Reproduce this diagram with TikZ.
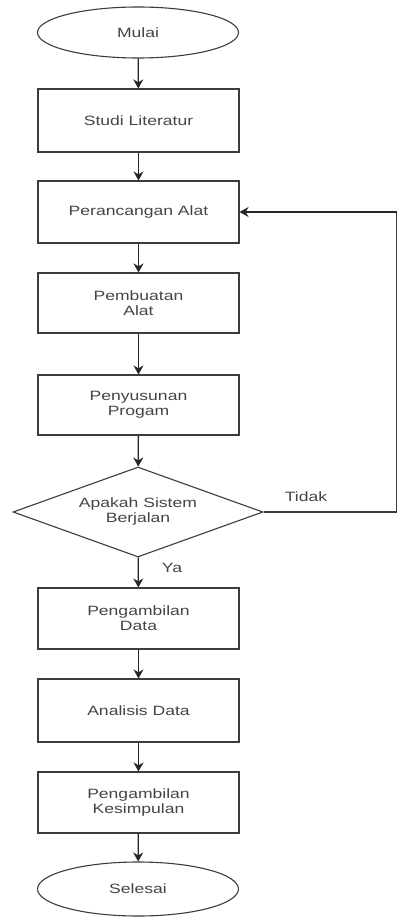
\documentclass[tikz,border=0pt]{standalone}
\usepackage{fontspec}
\setmainfont{Liberation Sans}[FakeStretch=1.3]
\usetikzlibrary{shapes.geometric,arrows.meta}
\definecolor{linegray}{HTML}{3C3C3C}
\definecolor{textgray}{HTML}{444444}
\tikzset{
  base/.style={draw=linegray, line width=1.1pt, inner sep=0pt, text=textgray, align=center,
    font=\fontsize{13.5}{15}\selectfont},
  procbox/.style={base, rectangle, minimum width=201pt},
  term/.style={base, ellipse, minimum width=201pt, minimum height=51pt},
  decision/.style={base, diamond, minimum width=250pt, minimum height=90pt, aspect=2.78},
  conn/.style={draw=black!85, line width=1.3pt, -{Stealth[length=9pt,width=10pt]}},
  plain/.style={draw=linegray, line width=1.1pt},
  lbl/.style={text=textgray, inner sep=0pt, font=\fontsize{13.5}{15}\selectfont}
}
\begin{document}
\begin{tikzpicture}[x=1pt,y=-1pt]
\useasboundingbox (0,0) rectangle (397,920);
\node[term] (mulai) at (138,32.5) {Mulai};
\node[procbox, minimum height=63pt] (studi) at (138.5,120.5) {Studi Literatur};
\node[procbox, minimum height=62pt] (peran) at (138.5,212) {Perancangan Alat};
\node[procbox, minimum height=60pt] (buat) at (138.5,303) {Pembuatan\\Alat};
\node[procbox, minimum height=60pt] (susun) at (138.5,405) {Penyusunan\\Progam};
\node[decision] (cek) at (138,512) {Apakah Sistem\\Berjalan};
\node[procbox, minimum height=61pt] (ambil) at (138.5,618.5) {Pengambilan\\Data};
\node[procbox, minimum height=63pt] (analisis) at (138.5,710.5) {Analisis Data};
\node[procbox, minimum height=61pt] (simpul) at (138.5,802.5) {Pengambilan\\Kesimpulan};
\node[term, minimum height=54pt] (selesai) at (138,889) {Selesai};
\coordinate (fbA) at (396.8,512);
\coordinate (fbB) at (396.8,212);
\node[lbl] (tidak) at (306,497) {Tidak};
\node[lbl] (ya) at (172,568) {Ya};
\draw[conn] (mulai) -- (studi);
\draw[conn] (studi) -- (peran);
\draw[conn] (peran) -- (buat);
\draw[conn] (buat) -- (susun);
\draw[conn] (susun) -- (cek);
\draw[conn] (cek) -- (ambil);
\draw[conn] (ambil) -- (analisis);
\draw[conn] (analisis) -- (simpul);
\draw[conn] (simpul) -- (selesai);
\draw[plain] (cek.east) -- (fbA) -- (fbB);
\draw[conn] (fbB) -- (peran.east);
\end{tikzpicture}
\end{document}
